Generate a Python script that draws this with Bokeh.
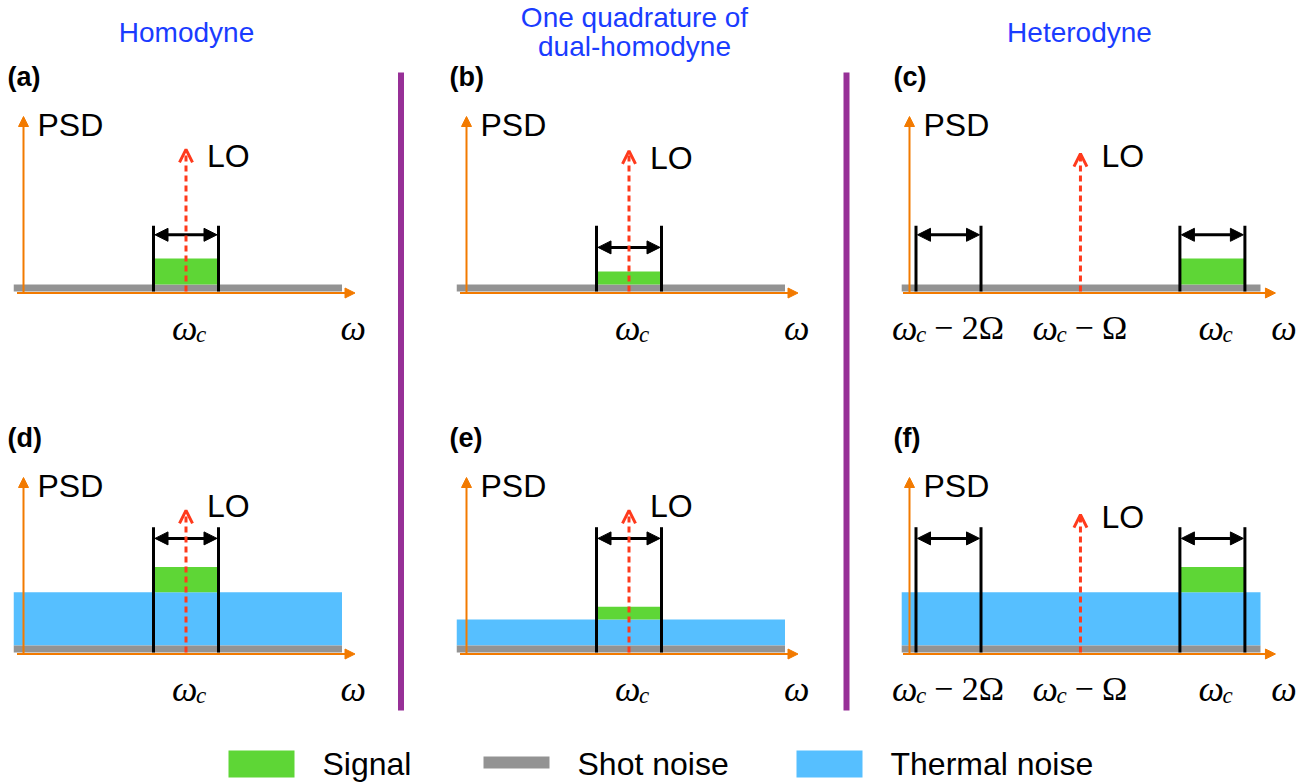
from bokeh.plotting import figure
from bokeh.models import Range1d, Arrow, NormalHead, OpenHead, ColumnDataSource
from bokeh.embed import file_html
from bokeh.resources import INLINE
from bokeh.core.properties import value

W, H = 1315, 782

# ------------------------------------------------------------------ data
PANEL_LABELS = ["(a)", "(b)", "(c)", "(d)", "(e)", "(f)"]
COLUMN_TITLES = [["Homodyne"], ["One quadrature of", "dual-homodyne"], ["Heterodyne"]]
HETERODYNE = [False, False, True, False, False, True]
# PSD levels (unit = shot-noise level)
SHOT_NOISE = [1.0, 1.0, 1.0, 1.0, 1.0, 1.0]
THERMAL_NOISE = [0.0, 0.0, 0.0, 7.6, 3.7, 7.6]
SIGNAL = [3.7, 1.85, 3.7, 3.6, 1.85, 3.6]
# frequencies (unit = detection bandwidth), measured from the PSD axis
OMEGA_C = [2.5, 2.5, 4.66, 2.5, 2.5, 4.66]
BIG_OMEGA = 2.03
LO_FREQ = [2.5, 2.5, 2.63, 2.5, 2.5, 2.63]
LO_HEIGHT = [20.3, 20.1, 19.7, 20.3, 20.3, 19.7]
LO_LABEL_LEVEL = [19.3, 19.1, 19.3, 21.0, 21.0, 19.4]
BAND_TOP = [9.4, 9.4, 9.4, 17.9, 17.9, 17.9]
BAND_ARROW = [8.1, 6.3, 8.1, 16.3, 16.3, 16.3]
NOISE_START = [-0.15, -0.15, -0.12, -0.15, -0.15, -0.12]
NOISE_END = [4.9, 4.9, 5.4, 4.9, 4.9, 5.4]
FREQ_AXIS_END = [5.1, 5.1, 5.63, 5.1, 5.1, 5.63]
OMEGA_LABEL_AT = [5.06, 5.07, 5.75, 5.06, 5.07, 5.75]
PSD_AXIS_TOP = 25.0
LEGEND_LABELS = ["Signal", "Shot noise", "Thermal noise"]

# ------------------------------------------------------------------ style / layout
GREEN, GRAY, BLUE = "#5ED636", "#939393", "#56BFFF"
ORANGE, RED, TITLE_BLUE, PURPLE = "#F27A00", "#FF3A1C", "#1A3CFF", "#8E1E8E"
SANS, SERIF = "Liberation Sans", "Liberation Serif"
COL_X = [23, 466, 909]
ROW_Y = [291, 652]
FU, PU = 65.0, 7.0


def px(i, f):
    return COL_X[i % 3] + f * FU


def py(i, level):
    return ROW_Y[i // 3] - level * PU


p = figure(width=W, height=H, x_range=Range1d(0, W), y_range=Range1d(H, 0),
           output_backend="svg", toolbar_location=None,
           x_axis_location=None, y_axis_location=None, min_border=0,
           outline_line_color=None, background_fill_color="white",
           border_fill_color="white")
p.grid.grid_line_color = None

# ---------------- noise / signal bands
th = dict(left=[], right=[], top=[], bottom=[])
sh = dict(left=[], right=[], top=[], bottom=[])
sg = dict(left=[], right=[], top=[], bottom=[])
for i in range(6):
    base = SHOT_NOISE[i]
    sh["left"].append(px(i, NOISE_START[i])); sh["right"].append(px(i, NOISE_END[i]))
    sh["bottom"].append(py(i, 0)); sh["top"].append(py(i, base))
    if THERMAL_NOISE[i] > 0:
        th["left"].append(px(i, NOISE_START[i])); th["right"].append(px(i, NOISE_END[i]))
        th["bottom"].append(py(i, base)); th["top"].append(py(i, base + THERMAL_NOISE[i]))
    lvl = base + THERMAL_NOISE[i]
    sg["left"].append(px(i, OMEGA_C[i] - 0.5)); sg["right"].append(px(i, OMEGA_C[i] + 0.5))
    sg["bottom"].append(py(i, lvl)); sg["top"].append(py(i, lvl + SIGNAL[i]))
p.quad(source=ColumnDataSource(th), fill_color=BLUE, line_color=None)
p.quad(source=ColumnDataSource(sh), fill_color=GRAY, line_color=None)
p.quad(source=ColumnDataSource(sg), fill_color=GREEN, line_color=None)

# ---------------- axes (orange arrows)
ax = dict(x0=[], y0=[], x1=[], y1=[])
for i in range(6):
    ax["x0"].append(px(i, -0.1)); ax["y0"].append(py(i, 0) + 1.5)
    ax["x1"].append(px(i, FREQ_AXIS_END[i])); ax["y1"].append(py(i, 0) + 1.5)
    ax["x0"].append(px(i, 0)); ax["y0"].append(py(i, 0) + 1.5)
    ax["x1"].append(px(i, 0)); ax["y1"].append(py(i, PSD_AXIS_TOP))
p.add_layout(Arrow(x_start="x0", y_start="y0", x_end="x1", y_end="y1",
                   source=ColumnDataSource(ax), line_color=ORANGE, line_width=2,
                   end=NormalHead(size=10, fill_color=ORANGE, line_color=ORANGE, line_width=1)))

# ---------------- detection bands (black brackets)
vl = dict(xs=[], ys=[])
da = dict(x0=[], x1=[], y=[])
for i in range(6):
    centres = [OMEGA_C[i]]
    if HETERODYNE[i]:
        centres = [OMEGA_C[i] - 2 * BIG_OMEGA, OMEGA_C[i]]
    for c in centres:
        for edge in (c - 0.5, c + 0.5):
            vl["xs"].append([px(i, edge), px(i, edge)])
            vl["ys"].append([py(i, 0), py(i, BAND_TOP[i])])
        da["x0"].append(px(i, c - 0.5) + 1.5); da["x1"].append(px(i, c + 0.5) - 1.5)
        da["y"].append(py(i, BAND_ARROW[i]))
p.multi_line(xs="xs", ys="ys", source=ColumnDataSource(vl), line_color="black", line_width=3)
p.add_layout(Arrow(x_start="x0", y_start="y", x_end="x1", y_end="y",
                   source=ColumnDataSource(da), line_color="black", line_width=3,
                   start=NormalHead(size=13, fill_color="black", line_color="black", line_width=1),
                   end=NormalHead(size=13, fill_color="black", line_color="black", line_width=1)))

# ---------------- LO arrows
lo = dict(x=[], y0=[], y1=[])
for i in range(6):
    lo["x"].append(px(i, LO_FREQ[i]))
    lo["y0"].append(py(i, 0))
    lo["y1"].append(py(i, LO_HEIGHT[i]))
p.add_layout(Arrow(x_start="x", y_start="y0", x_end="x", y_end="y1",
                   source=ColumnDataSource(lo), line_color=RED, line_width=3, line_dash="6 4",
                   end=OpenHead(size=13, line_color=RED, line_width=3)))

# ---------------- texts
txt_sans = dict(x=[], y=[], text=[])
for i in range(6):
    txt_sans["x"].append(px(i, 0) + 14); txt_sans["y"].append(py(i, 0) - 167); txt_sans["text"].append("PSD")
    txt_sans["x"].append(px(i, LO_FREQ[i]) + 21); txt_sans["y"].append(py(i, LO_LABEL_LEVEL[i])); txt_sans["text"].append("LO")
p.text(x="x", y="y", text="text", source=ColumnDataSource(txt_sans),
       text_font=value(SANS), text_font_size="32px", text_color="black",
       text_align="left", text_baseline="middle")

# panel labels
pl = dict(x=[], y=[], text=[])
for i in range(6):
    pl["x"].append(COL_X[i % 3] - 16 - (1 if i % 3 == 1 else 0))
    pl["y"].append(ROW_Y[i // 3] - 215)
    pl["text"].append(PANEL_LABELS[i])
p.text(x="x", y="y", text="text", source=ColumnDataSource(pl),
       text_font=value(SANS), text_font_size="27px", text_font_style="bold",
       text_color="black", text_align="left", text_baseline="middle")

# column titles
tt = dict(x=[], y=[], text=[])
title_cx = [186, 634, 1079]
for k, lines in enumerate(COLUMN_TITLES):
    ys = [32] if len(lines) == 1 else [17, 46]
    for line, yy in zip(lines, ys):
        tt["x"].append(title_cx[k]); tt["y"].append(yy); tt["text"].append(line)
p.text(x="x", y="y", text="text", source=ColumnDataSource(tt),
       text_font=value(SANS), text_font_size="28px", text_color=TITLE_BLUE,
       text_align="center", text_baseline="middle")

# frequency labels (omega_c, omega_c - Omega, ...)
OM_W, SUB_W, GAP = 24.0, 10.0, 8.0
REST_W = {"": 0.0, "− Ω": 54.0, "− 2Ω": 71.0}
om = dict(x=[], y=[], text=[])
sub = dict(x=[], y=[], text=[])
rest = dict(x=[], y=[], text=[])
for i in range(6):
    marks = [(OMEGA_C[i], "")]
    if HETERODYNE[i]:
        marks = [(OMEGA_C[i] - 2 * BIG_OMEGA, "− 2Ω"), (OMEGA_C[i] - BIG_OMEGA, "− Ω"), (OMEGA_C[i], "")]
    yb = py(i, 0) + 36
    for f, r in marks:
        total = OM_W + SUB_W + (GAP + REST_W[r] if r else 0)
        x0 = px(i, f) - total / 2 + (3 if not r else 0)
        om["x"].append(x0); om["y"].append(yb); om["text"].append("ω")
        sub["x"].append(x0 + OM_W); sub["y"].append(yb + 7); sub["text"].append("c")
        if r:
            rest["x"].append(x0 + OM_W + SUB_W + GAP); rest["y"].append(yb); rest["text"].append(r)
    om["x"].append(px(i, OMEGA_LABEL_AT[i]) - OM_W / 2); om["y"].append(yb); om["text"].append("ω")
p.text(x="x", y="y", text="text", source=ColumnDataSource(om),
       text_font=value(SERIF), text_font_size="36px", text_font_style="italic",
       text_color="black", text_align="left", text_baseline="alphabetic")
p.text(x="x", y="y", text="text", source=ColumnDataSource(sub),
       text_font=value(SERIF), text_font_size="23px", text_font_style="italic",
       text_color="black", text_align="left", text_baseline="alphabetic")
p.text(x="x", y="y", text="text", source=ColumnDataSource(rest),
       text_font=value(SERIF), text_font_size="34px",
       text_color="black", text_align="left", text_baseline="alphabetic")

# separators
p.segment(x0=[400.5, 846], y0=[72, 72], x1=[400.5, 846], y1=[710, 710],
          line_color=PURPLE, line_width=6, line_alpha=0.92)

# legend
sw_left = [228, 483, 796]
sw_top = [750, 756, 750]
sw_bot = [777, 768, 777]
p.quad(left=sw_left, right=[x + 66 for x in sw_left], top=sw_top, bottom=sw_bot,
       fill_color=[GREEN, GRAY, BLUE], line_color=None)
p.text(x=[x + 94 for x in sw_left], y=[763] * 3, text=LEGEND_LABELS,
       text_font=value(SANS), text_font_size="32px", text_color="black",
       text_align="left", text_baseline="middle")

open("out.html", "w").write(file_html(p, INLINE))
